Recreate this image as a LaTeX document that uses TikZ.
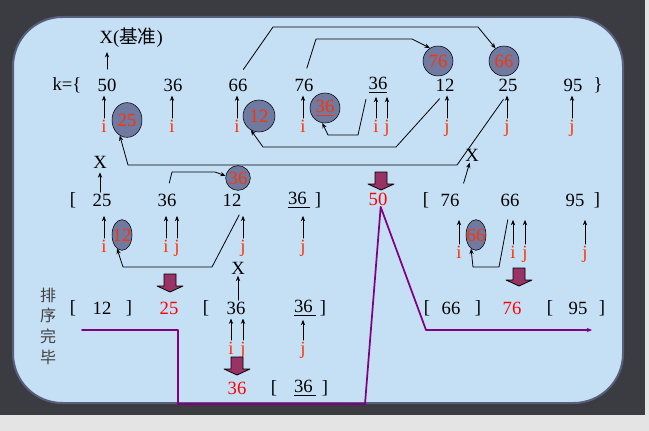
\documentclass[tikz,border=0pt]{standalone}
\usepackage{fontspec}
\setmainfont{Liberation Serif}
\newfontfamily\cjk{Noto Sans CJK SC}
\usetikzlibrary{shapes.geometric,arrows.meta}
\definecolor{screen}{RGB}{59,60,65}
\definecolor{strip}{RGB}{228,228,228}
\definecolor{panel}{RGB}{197,223,245}
\definecolor{rim}{RGB}{88,94,124}
\definecolor{bubble}{RGB}{112,121,160}
\definecolor{ptr}{RGB}{255,51,0}
\definecolor{wine}{RGB}{153,51,102}
\definecolor{flowc}{RGB}{128,0,128}

\begin{document}
\begin{tikzpicture}[x=0.75pt,y=-0.75pt,line cap=round,line join=round,>={Stealth[length=4pt,width=3.2pt]},
  every node/.style={inner sep=1pt},
  num/.style={font=\fontsize{14}{16}\selectfont},
  hot/.style={num,text=red},
  ptrlab/.style={num,text=ptr,text height=9.5pt,text depth=3pt},
  bub/.style={draw,fill=bubble,circle,inner sep=0pt,minimum size=22.5pt,text=ptr,font=\fontsize{14}{16}\selectfont},
  egg/.style={bub,ellipse,minimum size=0pt,minimum width=15pt,minimum height=23pt},
  up/.style={->,line width=0.6pt,shorten >=2pt},
  link/.style={->,line width=0.6pt,shorten <=6pt},
  flow/.style={->,flowc,line width=1.3pt},
  blk/.style={draw,fill=wine,line width=0.6pt}]
  \useasboundingbox (0,0) rectangle (649,431);
  % screen and panel
  \fill[strip] (0,0) rectangle (649,431);
  \fill[screen] (0,0) rectangle (645,415);
  \draw[rim,line width=1.5pt,fill=panel,rounded corners=37pt] (13,17) rectangle (623,403);

  % first pass: k = {50 36 66 76 36 12 25 95}
  \node[num] (kk) at (67,85) {k=\{};
  \node[num] (n50) at (107,85) {50};
  \node[num] (n36a) at (173,85) {36};
  \node[num] (n66) at (238,85) {66};
  \node[num] (n76) at (304,85) {76};
  \node[num] (n36b) at (378,85) {\underline{36}};
  \node[num] (n12) at (445,85) {12};
  \node[num] (n25) at (508,85) {25};
  \node[num] (n95) at (573,85) {95};
  \node[num] (rbr) at (598,85) {\}};
  \node[num,anchor=west] (base) at (98,38) {X({\cjk 基准})};
  \draw[up,shorten <=6pt] (n50.north) -- (n50.north |- base.south);

  \node[ptrlab] (ia1) at (104,128) {i};
  \node[ptrlab] (ia2) at (172,128) {i};
  \node[ptrlab] (ia3) at (237,128) {i};
  \node[ptrlab] (ia4) at (303,128) {i};
  \node[ptrlab] (ia5) at (376,128) {i};
  \node[ptrlab] (ja5) at (387,128) {j};
  \node[ptrlab] (ja6) at (447,128) {j};
  \node[ptrlab] (ja7) at (507,128) {j};
  \node[ptrlab] (ja8) at (572,128) {j};
  \draw[up] (ia1) -- (ia1 |- n50.south);
  \draw[up] (ia2) -- (ia2 |- n36a.south);
  \draw[up] (ia3) -- (ia3 |- n66.south);
  \draw[up] (ia4) -- (ia4 |- n76.south);
  \draw[up] (ia5) -- (ia5 |- n36b.south);
  \draw[up] (ja5) -- (ja5 |- n36b.south);
  \draw[up] (ja6) -- (ja6 |- n12.south);
  \draw[up] (ja7) -- (ja7 |- n25.south);
  \draw[up] (ja8) -- (ja8 |- n95.south);

  \node[egg,minimum width=22.5pt,minimum height=26pt] (c25) at (127,120) {\makebox[0pt]{25}};
  \node[bub,minimum size=24pt] (c12a) at (259,116) {\makebox[0pt]{12}};
  \node[bub] (c36a) at (325,108) {\makebox[0pt]{\underline{36}}};
  \node[bub] (c76) at (438,61) {\makebox[0pt]{76}};
  \node[bub] (c66a) at (504,61) {\makebox[0pt]{66}};

  \draw[link,shorten <=7pt] (n66.north) -- (273,27) -- (478,27) -- (c66a.124);
  \draw[link,shorten <=7pt] (n76.north) -- (316,39) -- (412,39) -- (c76.122);
  \draw[link,shorten <=4pt] (n36b.south west) -- (358,135) -- (328,135) -- (c36a.260);
  \draw[link] (n12.south) -- (396,147) -- (263,147) -- (c12a.240);
  \draw[link] (n25.south) -- (457,165) -- (128,165) -- (c25.245);

  % second pass
  \node[num] (lb2a) at (73,200) {[};
  \node[num] (r25) at (102,200) {25};
  \node[num] (r36) at (167,200) {36};
  \node[num] (r12) at (232,200) {12};
  \node[num] (r36u) at (299,200) {\underline{36\,}};
  \node[num] (rb2a) at (318,200) {]};
  \node[hot] (r50) at (378,199) {50};
  \node[num] (lb2b) at (426,200) {[};
  \node[num] (r76) at (450,200) {76};
  \node[num] (r66) at (510,200) {66};
  \node[num] (r95) at (575,200) {95};
  \node[num] (rb2b) at (597,200) {]};
  \node[num] (xa2) at (100,162) {X};
  \node[num] (xb2) at (472,155) {X};
  \draw[up,shorten <=0pt] (xa2 |- r25.north) -- (xa2);
  \draw[up,shorten <=7pt,shorten >=0pt] (r76.north east) -- (xb2);

  \node[ptrlab] (ib1) at (104,248) {i};
  \node[ptrlab] (ib2) at (166,248) {i};
  \node[ptrlab] (jb2) at (177,248) {j};
  \node[ptrlab] (jb3) at (243,248) {j};
  \node[ptrlab] (jb4) at (303,248) {j};
  \node[ptrlab] (ic1) at (459,254) {i};
  \node[ptrlab] (ic2) at (513,254) {i};
  \node[ptrlab] (jc2) at (525,254) {j};
  \node[ptrlab] (jc3) at (585,254) {j};
  \draw[up,shorten >=6pt] (ib1) -- (ib1 |- r25.south);
  \draw[up,shorten >=6pt] (ib2) -- (ib2 |- r36.south);
  \draw[up,shorten >=6pt] (jb2) -- (jb2 |- r36.south);
  \draw[up,shorten >=6pt] (jb3) -- (jb3 |- r12.south);
  \draw[up,shorten >=5pt] (jb4) -- (jb4 |- r36u.south);
  \draw[up,shorten >=9pt] (ic1) -- (ic1 |- r76.south);
  \draw[up,shorten >=9pt] (ic2) -- (ic2 |- r66.south);
  \draw[up,shorten >=9pt] (jc2) -- (jc2 |- r66.south);
  \draw[up,shorten >=9pt] (jc3) -- (jc3 |- r95.south);

  \node[bub,minimum size=18.5pt] (c36b) at (238,178) {\makebox[0pt]{36}};
  \node[egg] (c12b) at (122,235) {\makebox[0pt]{12}};
  \node[egg] (c66b) at (476,235) {\makebox[0pt]{66}};
  \draw[link,shorten <=7pt] (r36.north) -- (172,172) -- (215,172) -- (c36b.170);
  \draw[link] (r12.south east) -- (212,267) -- (123,267) -- (c12b.250);
  \draw[link,shorten <=9pt] (r66.south) -- (499,267) -- (473,267) -- (c66b.250);

  % third pass
  \node[num] (lb3a) at (73,308) {[};
  \node[num] (s12) at (102,308) {12};
  \node[num] (rb3a) at (129,308) {]};
  \node[hot] (s25) at (169,308) {25};
  \node[num] (lb3b) at (206,308) {[};
  \node[num] (s36) at (236,308) {36};
  \node[num] (s36u) at (305,308) {\underline{36\,}};
  \node[num] (rb3b) at (323,308) {]};
  \node[num] (lb3c) at (427,308) {[};
  \node[num] (s66) at (451,308) {66};
  \node[num] (rb3c) at (478,308) {]};
  \node[hot] (s76) at (512,308) {76};
  \node[num] (lb3d) at (550,308) {[};
  \node[num] (s95) at (578,308) {95};
  \node[num] (rb3d) at (602,308) {]};
  \node[num] (xa3) at (238,268) {X};
  \draw[up,shorten >=0pt] (xa3 |- s36.north) -- (xa3);

  \node[ptrlab] (id1) at (231,350) {i};
  \node[ptrlab] (jd1) at (243,350) {j};
  \node[ptrlab] (jd2) at (303,350) {j};
  \draw[up] (id1) -- (id1 |- s36.south);
  \draw[up] (jd1) -- (jd1 |- s36.south);
  \draw[up] (jd2) -- (jd2 |- s36u.south);

  % fourth pass
  \node[hot] (t36) at (237,388) {36};
  \node[num] (lb4) at (274,388) {[};
  \node[num] (t36u) at (305,388) {\underline{36\,}};
  \node[num] (rb4) at (325,388) {]};

  \node[font=\cjk\fontsize{12}{15.5}\selectfont,text=black!75,align=center] (done) at (48,326) {排\\序\\完\\毕};

  % block arrows
  \foreach \bx/\by in {381/172,170/274,519/268,237/357}
    \draw[blk] (\bx-6,\by) -- (\bx+6,\by) -- (\bx+6,\by+12) -- (\bx+13,\by+12)
      -- (\bx,\by+18) -- (\bx-13,\by+12) -- (\bx-6,\by+12) -- cycle;

  % flow line
  \coordinate (fstart) at (82,330);
  \coordinate (fend) at (592,330);
  \draw[flow] (fstart) -- (178,330) -- (178,404) -- (365,404) -- ([xshift=2pt]r50.south)
    -- (426,330) -- (fend);
\end{tikzpicture}
\end{document}
